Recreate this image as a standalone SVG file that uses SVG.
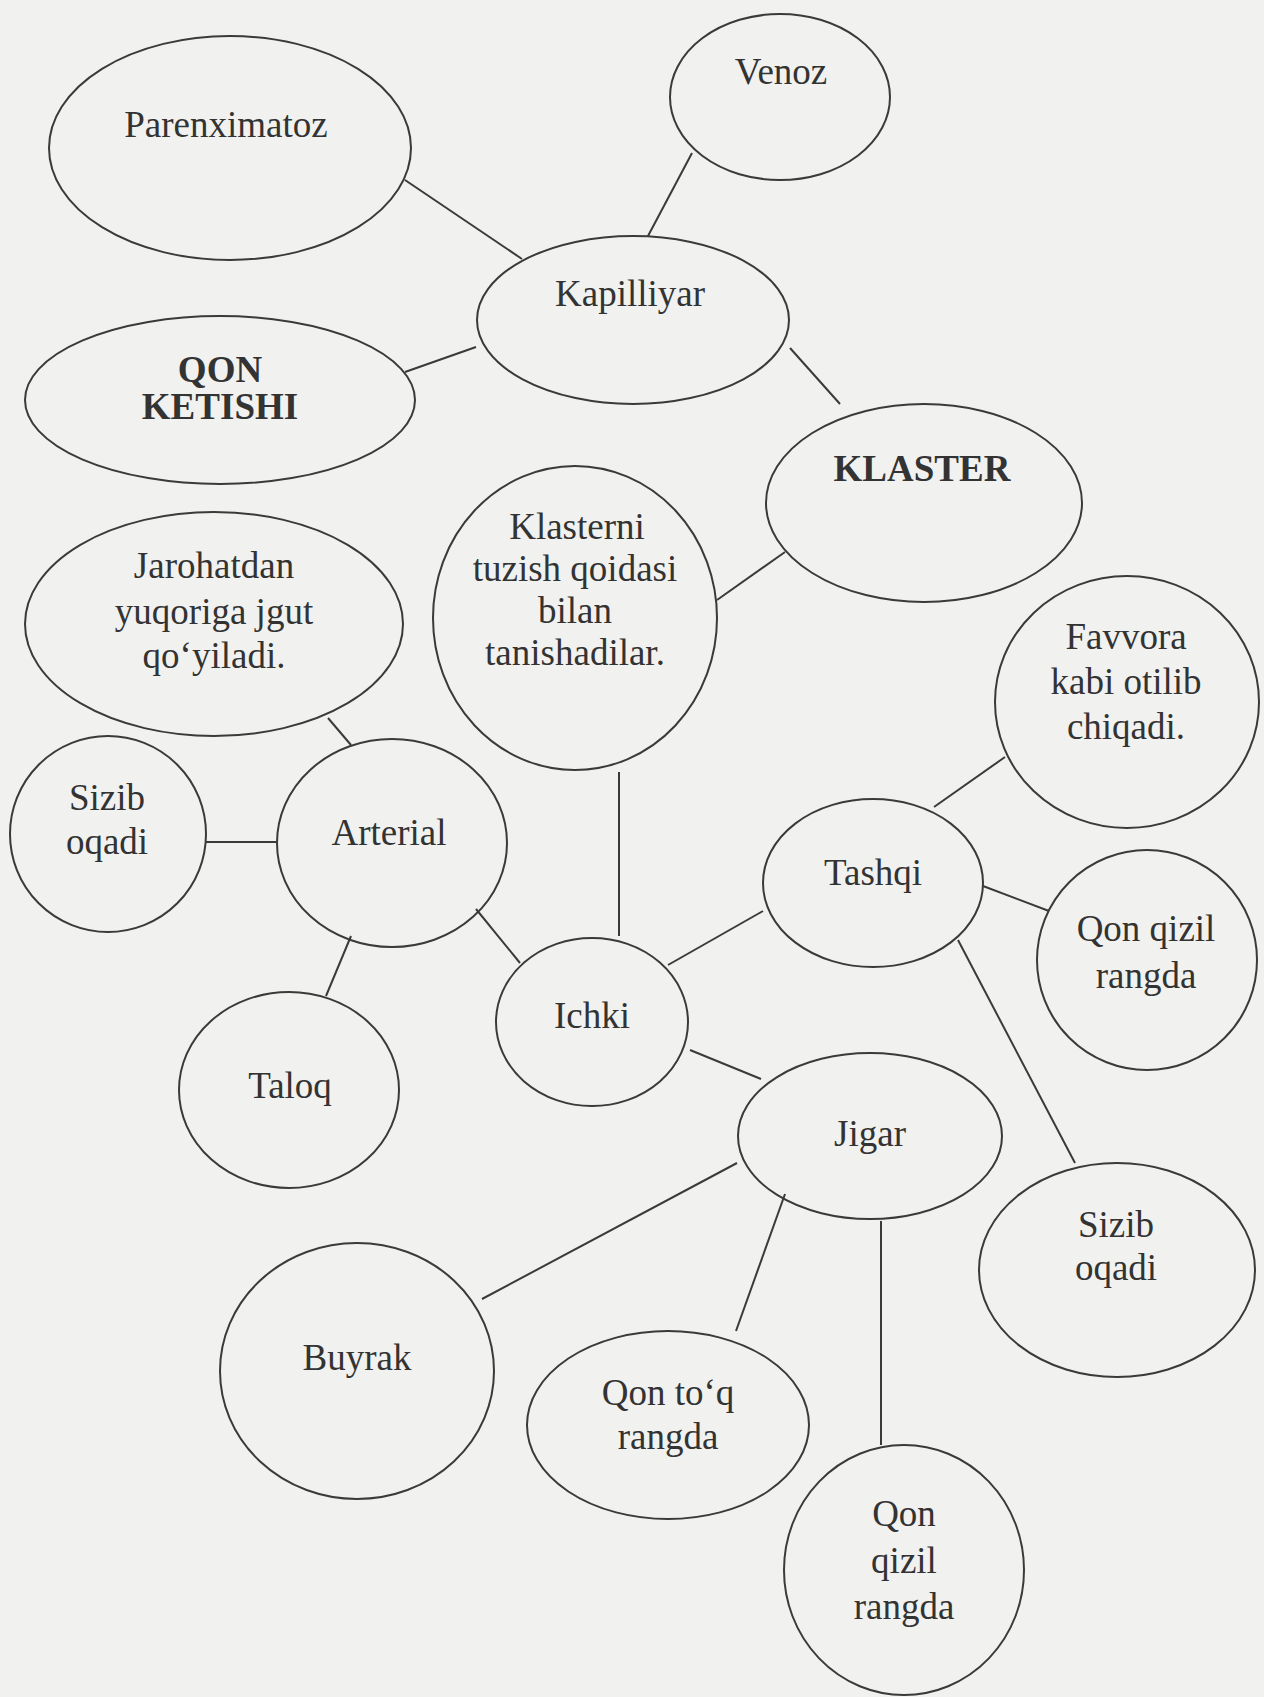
<svg xmlns="http://www.w3.org/2000/svg" width="1264" height="1697" viewBox="0 0 1264 1697">
<style>
.n{fill:none;stroke:#3a3a3a;stroke-width:2}
.c{stroke:#3a3a3a;stroke-width:2;fill:none}
text{font-family:"Liberation Serif","Times New Roman",serif;font-size:37px;fill:#333;text-anchor:middle}
.b{font-weight:bold}
</style>
<rect x="0" y="0" width="1264" height="1697" fill="#f1f1f0"/>
<g id="connectors">
<line class="c" x1="405" y1="180" x2="522" y2="259"/>
<line class="c" x1="692" y1="153" x2="648" y2="236"/>
<line class="c" x1="405" y1="372" x2="476" y2="347"/>
<line class="c" x1="790" y1="348" x2="840" y2="404"/>
<line class="c" x1="717" y1="600" x2="785" y2="552"/>
<line class="c" x1="328" y1="718" x2="351" y2="745"/>
<line class="c" x1="206" y1="842" x2="277" y2="842"/>
<line class="c" x1="351" y1="936" x2="326" y2="996"/>
<line class="c" x1="476" y1="909" x2="520" y2="963"/>
<line class="c" x1="619" y1="772" x2="619" y2="936"/>
<line class="c" x1="668" y1="965" x2="763" y2="911"/>
<line class="c" x1="934" y1="807" x2="1005" y2="757"/>
<line class="c" x1="983" y1="886" x2="1049" y2="911"/>
<line class="c" x1="958" y1="940" x2="1075" y2="1163"/>
<line class="c" x1="690" y1="1050" x2="761" y2="1079"/>
<line class="c" x1="482" y1="1299" x2="737" y2="1163"/>
<line class="c" x1="785" y1="1194" x2="736" y2="1331"/>
<line class="c" x1="881" y1="1221" x2="881" y2="1445"/>
</g>
<g id="parenximatoz"><ellipse class="n" cx="230" cy="148" rx="181" ry="112"/><text x="226" y="137">Parenximatoz</text></g>
<g id="venoz"><ellipse class="n" cx="780" cy="97" rx="110" ry="83"/><text x="781" y="84">Venoz</text></g>
<g id="kapilliyar"><ellipse class="n" cx="633" cy="320" rx="156" ry="84"/><text x="630" y="306">Kapilliyar</text></g>
<g id="qon-ketishi"><ellipse class="n" cx="220" cy="400" rx="195" ry="84"/><text class="b" x="220" y="382">QON</text><text class="b" x="220" y="419">KETISHI</text></g>
<g id="klaster"><ellipse class="n" cx="924" cy="503" rx="158" ry="99"/><text class="b" x="922" y="481">KLASTER</text></g>
<g id="klasterni"><ellipse class="n" cx="575" cy="618" rx="142" ry="152"/><text x="577" y="539">Klasterni</text><text x="575" y="581">tuzish qoidasi</text><text x="575" y="623">bilan</text><text x="575" y="665">tanishadilar.</text></g>
<g id="jarohatdan"><ellipse class="n" cx="214" cy="624" rx="189" ry="112"/><text x="214" y="578">Jarohatdan</text><text x="214" y="624">yuqoriga jgut</text><text x="214" y="668">qo‘yiladi.</text></g>
<g id="favvora"><ellipse class="n" cx="1127" cy="702" rx="132" ry="126"/><text x="1126" y="649">Favvora</text><text x="1126" y="694">kabi otilib</text><text x="1126" y="739">chiqadi.</text></g>
<g id="sizib-left"><ellipse class="n" cx="108" cy="834" rx="98" ry="98"/><text x="107" y="810">Sizib</text><text x="107" y="854">oqadi</text></g>
<g id="arterial"><ellipse class="n" cx="392" cy="843" rx="115" ry="104"/><text x="389" y="845">Arterial</text></g>
<g id="tashqi"><ellipse class="n" cx="873" cy="883" rx="110" ry="84"/><text x="873" y="885">Tashqi</text></g>
<g id="qon-qizil-right"><ellipse class="n" cx="1147" cy="960" rx="110" ry="110"/><text x="1146" y="941">Qon qizil</text><text x="1146" y="988">rangda</text></g>
<g id="ichki"><ellipse class="n" cx="592" cy="1022" rx="96" ry="84"/><text x="592" y="1028">Ichki</text></g>
<g id="taloq"><ellipse class="n" cx="289" cy="1090" rx="110" ry="98"/><text x="290" y="1098">Taloq</text></g>
<g id="jigar"><ellipse class="n" cx="870" cy="1136" rx="132" ry="83"/><text x="870" y="1146">Jigar</text></g>
<g id="sizib-right"><ellipse class="n" cx="1117" cy="1270" rx="138" ry="107"/><text x="1116" y="1237">Sizib</text><text x="1116" y="1280">oqadi</text></g>
<g id="buyrak"><ellipse class="n" cx="357" cy="1371" rx="137" ry="128"/><text x="357" y="1370">Buyrak</text></g>
<g id="qon-toq"><ellipse class="n" cx="668" cy="1425" rx="141" ry="94"/><text x="668" y="1405">Qon to‘q</text><text x="668" y="1449">rangda</text></g>
<g id="qon-qizil-bottom"><ellipse class="n" cx="904" cy="1570" rx="120" ry="125"/><text x="904" y="1526">Qon</text><text x="904" y="1573">qizil</text><text x="904" y="1619">rangda</text></g>
</svg>
